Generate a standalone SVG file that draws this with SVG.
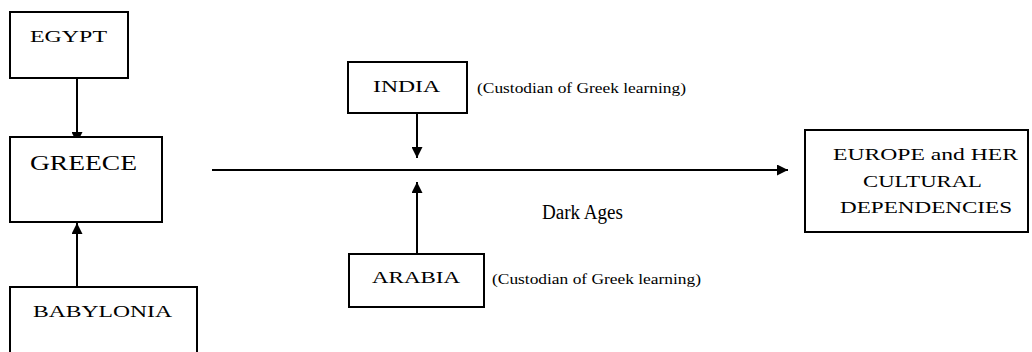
<svg xmlns="http://www.w3.org/2000/svg" width="1032" height="352" viewBox="0 0 1032 352">
<style>
.box{fill:#fff;stroke:#000;stroke-width:2}
.lbl{font-family:"Liberation Serif","DejaVu Serif",serif;fill:#000}
.con{stroke:#000;stroke-width:2;fill:none}
</style>
<defs>
<marker id="ah" viewBox="0 0 10 10" refX="10" refY="5" markerWidth="11" markerHeight="11" markerUnits="userSpaceOnUse" orient="auto">
<path d="M0,0 L10,5 L0,10 z" fill="#000"/>
</marker>
</defs>
<rect width="1032" height="352" fill="#fff"/>
<g id="connectors">
<line class="con" x1="77" y1="78" x2="77" y2="143" marker-end="url(#ah)"/>
<line class="con" x1="77" y1="287" x2="77" y2="223" marker-end="url(#ah)"/>
<line class="con" x1="417" y1="113" x2="417" y2="158" marker-end="url(#ah)"/>
<line class="con" x1="417" y1="254" x2="417" y2="182" marker-end="url(#ah)"/>
<line class="con" x1="212" y1="170" x2="788" y2="170" marker-end="url(#ah)"/>
</g>
<g id="egypt">
<rect class="box" x="10" y="12" width="118" height="66"/>
<text class="lbl" x="30" y="42" font-size="17" textLength="77" lengthAdjust="spacingAndGlyphs">EGYPT</text>
</g>
<g id="greece">
<rect class="box" x="10" y="137" width="152" height="85"/>
<text class="lbl" x="30" y="170" font-size="22" textLength="107" lengthAdjust="spacingAndGlyphs">GREECE</text>
</g>
<g id="babylonia">
<rect class="box" x="10" y="287" width="187" height="70"/>
<text class="lbl" x="33" y="317" font-size="17" textLength="139" lengthAdjust="spacingAndGlyphs">BABYLONIA</text>
</g>
<g id="india">
<rect class="box" x="348" y="62" width="119" height="51"/>
<text class="lbl" x="373" y="92" font-size="17" textLength="67" lengthAdjust="spacingAndGlyphs">INDIA</text>
<text class="lbl" x="477" y="93" font-size="14" textLength="209" lengthAdjust="spacingAndGlyphs">(Custodian of Greek learning)</text>
</g>
<g id="arabia">
<rect class="box" x="349" y="254" width="135" height="53"/>
<text class="lbl" x="372" y="283" font-size="17" textLength="88" lengthAdjust="spacingAndGlyphs">ARABIA</text>
<text class="lbl" x="492" y="284" font-size="14" textLength="209" lengthAdjust="spacingAndGlyphs">(Custodian of Greek learning)</text>
</g>
<g id="darkages">
<text class="lbl" x="542" y="219" font-size="20" textLength="81" lengthAdjust="spacingAndGlyphs">Dark Ages</text>
</g>
<g id="europe">
<rect class="box" x="805" y="130" width="223" height="102"/>
<text class="lbl" x="833" y="160" font-size="17" textLength="185" lengthAdjust="spacingAndGlyphs">EUROPE and HER</text>
<text class="lbl" x="863" y="187" font-size="17" textLength="119" lengthAdjust="spacingAndGlyphs">CULTURAL</text>
<text class="lbl" x="840" y="213" font-size="17" textLength="172" lengthAdjust="spacingAndGlyphs">DEPENDENCIES</text>
</g>
</svg>
